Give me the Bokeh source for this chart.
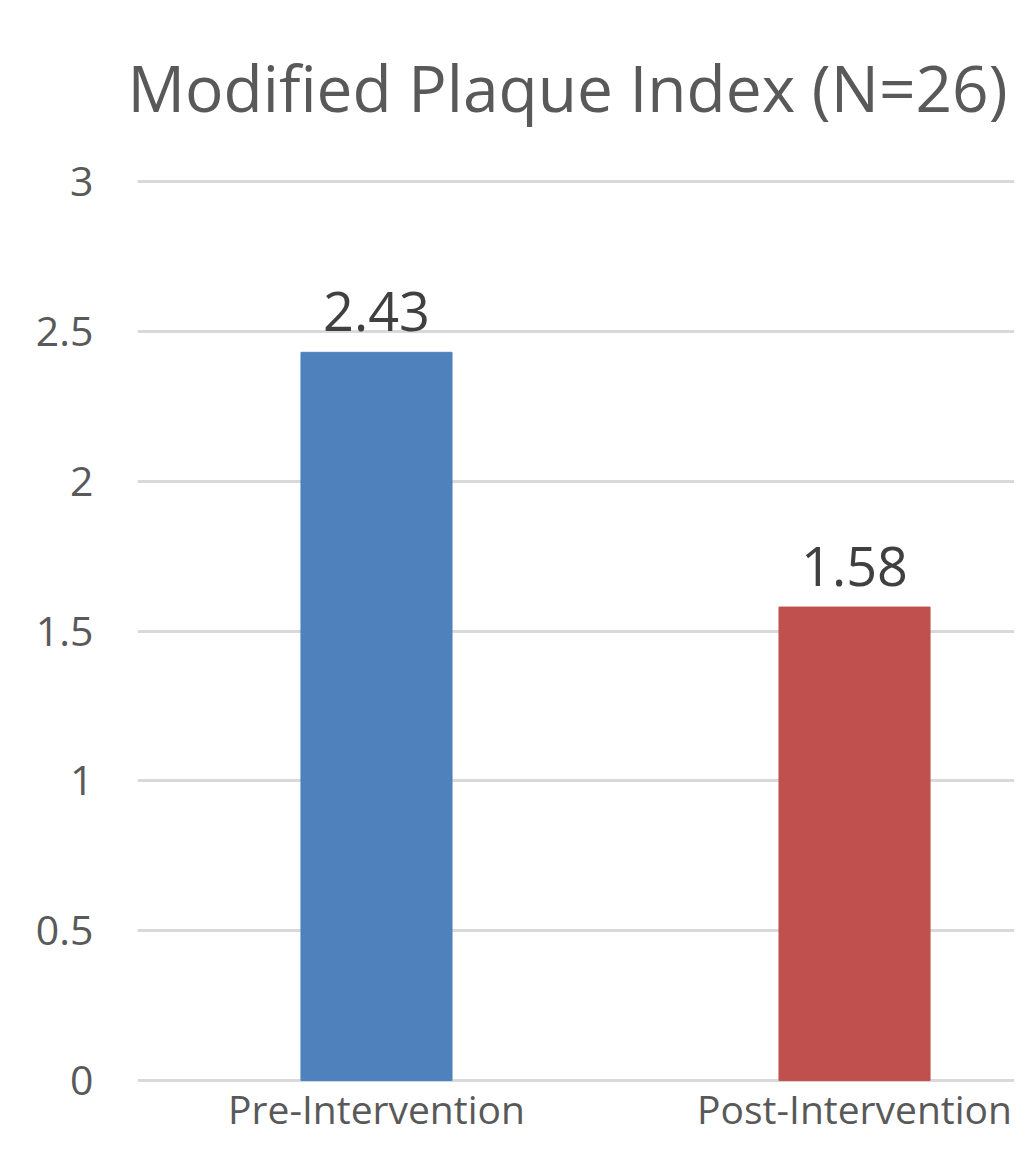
from bokeh.plotting import figure
from bokeh.models import Range1d, FixedTicker, NumeralTickFormatter, ColumnDataSource
from bokeh.core.properties import value
from bokeh.embed import file_html
from bokeh.resources import INLINE

# ---- data ----
title_text = "Modified Plaque Index (N=26)"
categories = ["Pre-Intervention", "Post-Intervention"]
values = [2.43, 1.58]
bar_colors = ["#4F81BD", "#C0504D"]
y_ticks = [0, 0.5, 1, 1.5, 2, 2.5, 3]

xs = [i + 0.5 for i in range(len(categories))]
value_labels = [f"{v:.2f}" for v in values]

FONT = "Open Sans"

src = ColumnDataSource(dict(x=xs, top=values, color=bar_colors,
                            cat=categories, lab=value_labels,
                            zero=[0] * len(categories)))

p = figure(width=1014, height=1135,
           x_range=Range1d(0, 1.8347), y_range=Range1d(-0.1833, 3.02),
           output_backend="svg", toolbar_location=None,
           x_axis_location=None,
           min_border_left=137, min_border_right=0,
           min_border_top=174, min_border_bottom=0,
           title=title_text)

p.outline_line_color = None
p.background_fill_color = "white"
p.border_fill_color = "white"

# title
p.title.text_font = FONT
p.title.text_font_size = "64px"
p.title.text_font_style = "normal"
p.title.text_color = "#595959"
p.title.align = "left"
p.title.offset = -10
p.title.vertical_align = "top"
p.title.standoff = 86

# y axis
p.yaxis.ticker = FixedTicker(ticks=y_ticks)
p.yaxis.formatter = NumeralTickFormatter(format="0.[0]")
p.yaxis.axis_line_color = None
p.yaxis.major_tick_line_color = None
p.yaxis.minor_tick_line_color = None
p.yaxis.major_tick_out = 0
p.yaxis.major_tick_in = 0
p.yaxis.major_label_standoff = 44
p.yaxis.major_label_text_font = FONT
p.yaxis.major_label_text_font_size = "41px"
p.yaxis.major_label_text_color = "#595959"

p.ygrid.ticker = FixedTicker(ticks=y_ticks)
p.ygrid.grid_line_color = "#d9d9d9"
p.ygrid.grid_line_width = 3
p.xgrid.visible = False

# bars
p.vbar(x="x", top="top", bottom=0, width=0.316, fill_color="color",
       line_color="color", line_width=1, source=src)

# value labels
p.text(x="x", y="top", text="lab", source=src, y_offset=-41,
       text_align="center", text_baseline="alphabetic",
       text_font=value(FONT), text_font_size="54px", text_color="#404040")

# category labels
p.text(x="x", y="zero", text="cat", source=src, y_offset=28,
       text_align="center", text_baseline="alphabetic",
       text_font=value(FONT), text_font_size="39px", text_color="#595959")

open("out.html", "w").write(file_html(p, INLINE))
